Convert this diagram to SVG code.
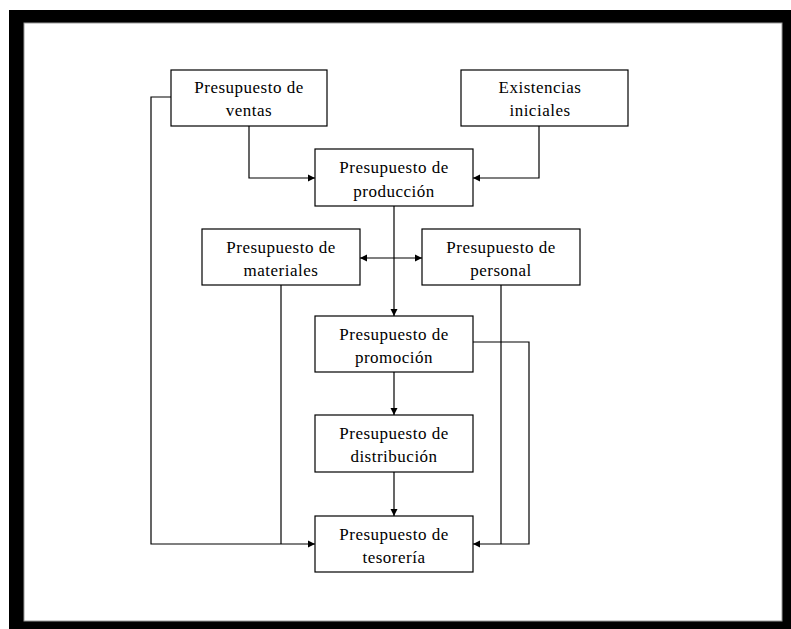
<svg xmlns="http://www.w3.org/2000/svg" width="791" height="629" viewBox="0 0 791 629">
<style>
.box{fill:#fff;stroke:#000;stroke-width:1.2}
.t{font-family:"Liberation Serif","Times New Roman",serif;font-size:17px;letter-spacing:0.5px;fill:#000;text-anchor:middle}
.c{fill:none;stroke:#000;stroke-width:1.2}
</style>
<defs>
<marker id="ah" markerUnits="userSpaceOnUse" markerWidth="8" markerHeight="8" refX="7" refY="4" orient="auto-start-reverse">
<path d="M0,0.5 L7,4 L0,7.5 Z" fill="#000"/>
</marker>
</defs>
<rect x="9" y="10" width="782" height="619" fill="#000"/>
<rect x="24" y="23" width="758" height="598" fill="#fff" stroke="#999" stroke-width="1"/>
<g id="connectors">
<polyline class="c" points="171,97 151,97 151,544 315,544" marker-end="url(#ah)"/>
<line class="c" x1="281" y1="285" x2="281" y2="544"/>
<polyline class="c" points="249,126 249,178 315,178" marker-end="url(#ah)"/>
<polyline class="c" points="539,126 539,178 473,178" marker-end="url(#ah)"/>
<line class="c" x1="394" y1="206" x2="394" y2="316" marker-end="url(#ah)"/>
<line class="c" x1="360" y1="258" x2="422" y2="258" marker-start="url(#ah)" marker-end="url(#ah)"/>
<line class="c" x1="394" y1="372" x2="394" y2="415" marker-end="url(#ah)"/>
<line class="c" x1="394" y1="472" x2="394" y2="516" marker-end="url(#ah)"/>
<line class="c" x1="501" y1="285" x2="501" y2="544"/>
<polyline class="c" points="473,342 529,342 529,544 473,544" marker-end="url(#ah)"/>
</g>
<g id="ventas">
<rect class="box" x="171" y="70" width="156" height="56"/>
<text class="t" x="249" y="93">Presupuesto de</text>
<text class="t" x="249" y="116">ventas</text>
</g>
<g id="existencias">
<rect class="box" x="461" y="70" width="167" height="56"/>
<text class="t" x="540" y="93">Existencias</text>
<text class="t" x="540" y="116">iniciales</text>
</g>
<g id="produccion">
<rect class="box" x="315" y="149" width="158" height="57"/>
<text class="t" x="394" y="173">Presupuesto de</text>
<text class="t" x="394" y="197">producción</text>
</g>
<g id="materiales">
<rect class="box" x="202" y="229" width="158" height="56"/>
<text class="t" x="281" y="253">Presupuesto de</text>
<text class="t" x="281" y="276">materiales</text>
</g>
<g id="personal">
<rect class="box" x="422" y="229" width="158" height="56"/>
<text class="t" x="501" y="253">Presupuesto de</text>
<text class="t" x="501" y="276">personal</text>
</g>
<g id="promocion">
<rect class="box" x="315" y="316" width="158" height="56"/>
<text class="t" x="394" y="340">Presupuesto de</text>
<text class="t" x="394" y="363">promoción</text>
</g>
<g id="distribucion">
<rect class="box" x="315" y="415" width="158" height="57"/>
<text class="t" x="394" y="439">Presupuesto de</text>
<text class="t" x="394" y="462">distribución</text>
</g>
<g id="tesoreria">
<rect class="box" x="315" y="516" width="158" height="56"/>
<text class="t" x="394" y="540">Presupuesto de</text>
<text class="t" x="394" y="563">tesorería</text>
</g>
</svg>
